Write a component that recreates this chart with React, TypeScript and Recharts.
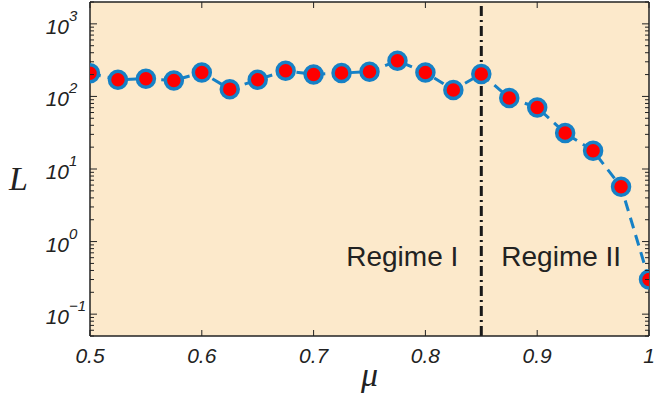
import { LineChart, Line, XAxis, YAxis, CartesianGrid, ReferenceLine } from "recharts";

const muValues = [
  0.5, 0.525, 0.55, 0.575, 0.6, 0.625, 0.65, 0.675, 0.7, 0.725, 0.75, 0.775, 0.8, 0.825, 0.85,
  0.875, 0.9, 0.925, 0.95, 0.975, 1.0,
];
const lValues = [
  208, 170, 175, 166, 214, 126, 170, 226, 201, 210, 219, 310, 214, 123, 204, 95, 70.5, 31.3, 17.8,
  5.7, 0.3,
];

const xTicks = [0.5, 0.6, 0.7, 0.8, 0.9, 1];
const xTickLabels = ["0.5", "0.6", "0.7", "0.8", "0.9", "1"];
const yMajorTicks = [0.1, 1, 10, 100, 1000];
const yExponents = ["\u22121", "0", "1", "2", "3"];
const yMinorTicks = [
  0.05, 0.06, 0.07, 0.08, 0.09, 0.2, 0.3, 0.4, 0.5, 0.6, 0.7, 0.8, 0.9, 2, 3, 4, 5, 6, 7, 8, 9, 20,
  30, 40, 50, 60, 70, 80, 90, 200, 300, 400, 500, 600, 700, 800, 900, 2000,
];
const yAllTicks = [...yMajorTicks, ...yMinorTicks].sort((a, b) => a - b);

const data = muValues.map((mu, i) => ({ mu, L: lValues[i] }));

const FONT = "'Liberation Sans', Arial, Helvetica, sans-serif";
const SERIF = "'Liberation Serif', 'Times New Roman', serif";
const INK = "#222";
const BLUE = "#1681c6";
const PAPER = "#fce9cb";

const isMajor = (v: number) => yMajorTicks.some((t) => Math.abs(t - v) < 1e-9);

function LeftTick(props: any) {
  const { x, y, payload } = props;
  const v = payload.value;
  const k = yMajorTicks.findIndex((t) => Math.abs(t - v) < 1e-9);
  return (
    <g>
      <line x1={x} x2={x + (k >= 0 ? 7 : 4)} y1={y} y2={y} stroke={INK} strokeWidth={1} />
      {k >= 0 && (
        <g fontFamily={FONT} fontStyle="italic" fill={INK}>
          <text x={x - 21} y={y + 10} fontSize={21} textAnchor="end">
            10
          </text>
          <text x={x - 21} y={y - 3} fontSize={15} textAnchor="start">
            {yExponents[k]}
          </text>
        </g>
      )}
    </g>
  );
}

function RightTick(props: any) {
  const { x, y, payload } = props;
  const len = isMajor(payload.value) ? 7 : 4;
  return <line x1={x} x2={x - len} y1={y} y2={y} stroke={INK} strokeWidth={1} />;
}

function BottomTick(props: any) {
  const { x, y, payload } = props;
  const k = xTicks.findIndex((t) => Math.abs(t - payload.value) < 1e-9);
  return (
    <g>
      <line x1={x} x2={x} y1={y} y2={y - 6} stroke={INK} strokeWidth={1} />
      <text
        x={x}
        y={y + 27}
        textAnchor="middle"
        fontFamily={FONT}
        fontStyle="italic"
        fontSize={21}
        fill={INK}
      >
        {xTickLabels[k]}
      </text>
    </g>
  );
}

function TopTick(props: any) {
  const { x, y } = props;
  return <line x1={x} x2={x} y1={y} y2={y + 6} stroke={INK} strokeWidth={1} />;
}

function RegimeLabels(props: any) {
  const vb = props.viewBox || {};
  const x = vb.x ?? 0;
  const bottom = (vb.y ?? 0) + (vb.height ?? 0);
  return (
    <g fontFamily={FONT} fontSize={28} fill={INK}>
      <text x={x - 23} y={bottom - 70} textAnchor="end">
        Regime I
      </text>
      <text x={x + 20} y={bottom - 70} textAnchor="start">
        Regime II
      </text>
    </g>
  );
}

function YLabel(props: any) {
  const vb = props.viewBox || {};
  return (
    <text
      x={(vb.x ?? 0) + 9}
      y={(vb.y ?? 0) + 188}
      fontFamily={SERIF}
      fontStyle="italic"
      fontSize={34}
      fill={INK}
    >
      L
    </text>
  );
}

function XLabel(props: any) {
  const vb = props.viewBox || {};
  return (
    <text
      x={(vb.x ?? 0) + (vb.width ?? 0) / 2}
      y={(vb.y ?? 0) + 50}
      textAnchor="middle"
      fontFamily={SERIF}
      fontStyle="italic"
      fontSize={34}
      fill={INK}
    >
      μ
    </text>
  );
}

export default function App() {
  return (
    <div style={{ position: "absolute", left: 0, top: 0, width: 654, height: 398, background: "#fff" }}>
      <LineChart width={654} height={398} data={data} margin={{ top: 2, right: 5, bottom: 0, left: 0 }}>
        <CartesianGrid xAxisId="b" yAxisId="l" horizontal={false} vertical={false} fill={PAPER} stroke="none" />
        <XAxis
          xAxisId="b"
          dataKey="mu"
          type="number"
          domain={[0.5, 1]}
          ticks={xTicks}
          interval={0}
          allowDataOverflow
          height={62}
          tickSize={0}
          tickMargin={0}
          tickLine={false}
          tick={<BottomTick />}
          axisLine={{ stroke: INK, strokeWidth: 1.5 }}
          label={<XLabel />}
        />
        <XAxis
          xAxisId="t"
          orientation="top"
          mirror
          dataKey="mu"
          type="number"
          domain={[0.5, 1]}
          ticks={xTicks}
          interval={0}
          allowDataOverflow
          height={1}
          tickSize={0}
          tickMargin={0}
          tickLine={false}
          tick={<TopTick />}
          axisLine={{ stroke: INK, strokeWidth: 1.5 }}
        />
        <YAxis
          yAxisId="l"
          scale="log"
          type="number"
          domain={[0.05, 2000]}
          ticks={yAllTicks}
          interval={0}
          allowDataOverflow
          width={90}
          tickSize={0}
          tickMargin={0}
          tickLine={false}
          tick={<LeftTick />}
          axisLine={{ stroke: INK, strokeWidth: 1.5 }}
          label={<YLabel />}
        />
        <YAxis
          yAxisId="r"
          orientation="right"
          mirror
          scale="log"
          type="number"
          domain={[0.05, 2000]}
          ticks={yAllTicks}
          interval={0}
          allowDataOverflow
          width={1}
          tickSize={0}
          tickMargin={0}
          tickLine={false}
          tick={<RightTick />}
          axisLine={{ stroke: INK, strokeWidth: 1.5 }}
        />
        <ReferenceLine
          xAxisId="b"
          yAxisId="l"
          x={0.85}
          stroke="#1a1a1a"
          strokeWidth={3}
          strokeDasharray="10 4 2 4"
          label={<RegimeLabels />}
        />
        <Line
          xAxisId="b"
          yAxisId="l"
          dataKey="L"
          type="linear"
          stroke={BLUE}
          strokeWidth={3}
          strokeDasharray="11 7"
          dot={{ r: 8.5, fill: "#ff0000", stroke: BLUE, strokeWidth: 3.5, strokeDasharray: "none" }}
          isAnimationActive={false}
        />
      </LineChart>
    </div>
  );
}
